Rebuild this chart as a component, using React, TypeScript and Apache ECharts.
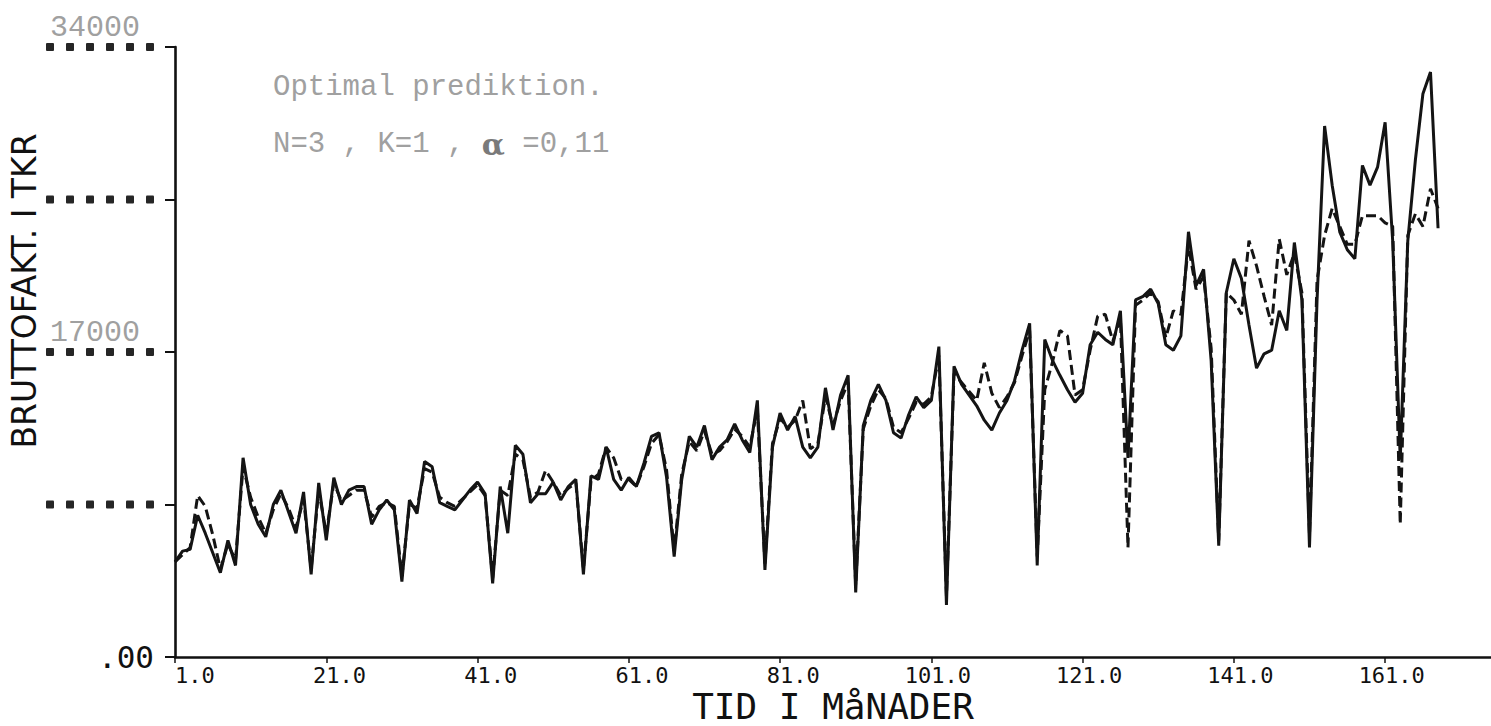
import React, { useEffect, useRef } from "react";
import * as echarts from "echarts";

// Monthly gross invoicing (TKR), 14 years = 168 months, month 1 first.
const actualTkr: number[] = [
  5300, 5900, 6000, 7900, 6900, 5800, 4700, 6500, 5100, 11100, 8500, 7400,
  6700, 8500, 9300, 8100, 6900, 9200, 4600, 9700, 6500, 10000, 8500, 9300,
  9500, 9500, 7400, 8200, 8750, 8200, 4200, 8750, 8000, 10900, 10600, 8600,
  8400, 8200, 8750, 9300, 9750, 9100, 4100, 9500, 6900, 11800, 11300, 8600,
  9100, 9100, 9750, 8750, 9500, 9900, 4600, 10100, 9900, 11700, 9900, 9300,
  10000, 9500, 10800, 12300, 12500, 10000, 5600, 9900, 12300, 11700, 12900, 11000,
  11700, 12100, 13000, 12100, 11400, 14300, 4850, 11700, 13600, 12650, 13400, 11700,
  11100, 11700, 15000, 12650, 14600, 15700, 3600, 12900, 14300, 15200, 14300, 12500,
  12200, 13500, 14500, 13900, 14300, 17300, 2900, 16200, 15200, 14600, 14000, 13200,
  12650, 13600, 14300, 15400, 17100, 18600, 5100, 17700, 16550, 15700, 14900, 14200,
  14700, 17400, 18100, 17700, 17400, 19300, 11100, 19900, 20100, 20500, 19700, 17400,
  17100, 17900, 23700, 20700, 21600, 16500, 6200, 20300, 22200, 21100, 18500, 16100,
  16900, 17100, 19300, 18200, 23100, 19900, 6100, 19900, 29600, 26300, 23700, 22700,
  22200, 27400, 26300, 27300, 29800, 23200, 11000, 23200, 27700, 31400, 32600, 23900,
];

// Optimal prediction, N=3, K=1, alpha=0.11 (TKR).
const predictedTkr: number[] = [
  5300, 5700, 6100, 9000, 8400, 6800, 4900, 6300, 5400, 10600, 8900, 7800,
  6900, 8200, 9100, 8300, 7200, 8800, 4900, 9300, 6900, 9700, 8700, 9000,
  9300, 9300, 7800, 8400, 8600, 8400, 4500, 8500, 8300, 10500, 10300, 8900,
  8600, 8400, 8800, 9200, 9600, 9000, 4400, 9300, 9000, 11300, 11000, 8900,
  9200, 10400, 9750, 9000, 9400, 9700, 4900, 9800, 10200, 11700, 11100, 9900,
  9900, 9500, 10600, 11900, 12400, 10400, 5900, 10200, 12000, 11500, 12600, 11300,
  11500, 12000, 12700, 12300, 11700, 13800, 5200, 11900, 13300, 12800, 13200, 14300,
  11600, 11900, 14500, 12900, 14300, 15300, 4000, 12700, 14000, 14900, 14400, 12800,
  12500, 13300, 14200, 14100, 14500, 16800, 3400, 15800, 15300, 14800, 14300, 16400,
  14700, 13900, 14500, 15300, 16800, 18200, 5600, 14900, 16400, 18200, 17900, 14600,
  14900, 17100, 19000, 19100, 17600, 18900, 6100, 19600, 19900, 20300, 19800, 17800,
  19300, 19100, 22900, 20500, 21200, 17200, 6500, 20300, 19900, 19100, 23200, 21800,
  20100, 18500, 23300, 21300, 22500, 20300, 6800, 21000, 23500, 25000, 24000, 23000,
  23000, 24600, 24600, 24600, 24200, 24000, 7400, 23500, 24700, 24000, 26100, 25000,
];

const xTickMonths: number[] = [1, 21, 41, 61, 81, 101, 121, 141, 161];
const yTicks: number[] = [0, 8500, 17000, 25500, 34000];
const yNumberLabels: number[] = [17000, 34000];

const monoFont = "DejaVu Sans Mono";
const typeFont = "Liberation Mono";
const NBSP = "\u00a0";

// Plot area and axis range (months are stored as month - 1 on the x axis).
const GRID = { left: 175, top: 47, width: 1316, height: 610 };
const X_MAX = 174;
const X_LABEL_SIZE = 22;
const X_CHAR_W = 0.602 * X_LABEL_SIZE;

// Plotter style: the units digit of each month label starts at its tick,
// so left-aligned labels are moved back by the digits in front of it.
const xLabelValues = xTickMonths.map((m) => {
  const lead = String(m).length - 1;
  return m - 1 - (lead * X_CHAR_W * X_MAX) / GRID.width;
});
const xLabelText = (v: number) => (Math.round(v / 20) * 20 + 1).toFixed(1);

const dotRow =
  "{d|" + NBSP + "}" + [0, 1, 2, 3, 4].map(() => "{g|" + NBSP + "}{d|" + NBSP + "}").join("");

export default function App() {
  const ref = useRef<HTMLDivElement>(null);

  useEffect(() => {
    if (!ref.current) return;
    const chart = echarts.init(ref.current, undefined, { renderer: "svg" });

    const toPoints = (arr: number[]) => arr.map((v, i) => [i, v]);

    chart.setOption({
      animation: false,
      backgroundColor: "#ffffff",
      grid: GRID,
      xAxis: {
        type: "value",
        min: 0,
        max: X_MAX,
        axisLine: { lineStyle: { color: "#111", width: 2.6 } },
        axisTick: {
          customValues: xTickMonths.map((m) => m - 1),
          length: 6,
          lineStyle: { color: "#111", width: 1.5 },
        },
        axisLabel: {
          customValues: xLabelValues,
          formatter: xLabelText,
          fontFamily: monoFont,
          fontSize: X_LABEL_SIZE,
          color: "#111",
          margin: 7,
          align: "left",
        },
        splitLine: { show: false },
      },
      yAxis: [
        {
          type: "value",
          min: yTicks[0],
          max: yTicks[yTicks.length - 1],
          interval: yTicks[1] - yTicks[0],
          axisLine: { show: true, lineStyle: { color: "#111", width: 2.6 } },
          axisTick: { show: true, length: 10, lineStyle: { color: "#111", width: 2 } },
          splitLine: { show: false },
          axisLabel: {
            margin: 21,
            formatter: (v: number) => (v === 0 ? "{z|.00}" : dotRow),
            rich: {
              z: { fontFamily: monoFont, fontSize: 31, color: "#111" },
              d: { width: 8, height: 8, backgroundColor: "#262626", borderRadius: 1 },
              g: { width: 12, height: 8 },
            },
          },
        },
        {
          type: "value",
          position: "left",
          min: yTicks[0],
          max: yTicks[yTicks.length - 1],
          interval: yTicks[1] - yTicks[0],
          axisLine: { show: false },
          axisTick: { show: false },
          splitLine: { show: false },
          axisLabel: {
            margin: 35,
            verticalAlign: "bottom",
            padding: [0, 0, 4, 0],
            formatter: (v: number) => (yNumberLabels.includes(v) ? String(v) : ""),
            fontFamily: typeFont,
            fontSize: 30,
            color: "#a0a0a0",
          },
        },
      ],
      series: [
        {
          name: "Prediktion",
          type: "line",
          symbol: "none",
          data: toPoints(predictedTkr),
          lineStyle: { color: "#141414", width: 3, type: [10, 5] },
          z: 2,
        },
        {
          name: "Bruttofakturering",
          type: "line",
          symbol: "none",
          data: toPoints(actualTkr),
          lineStyle: { color: "#141414", width: 3 },
          z: 3,
        },
      ],
      graphic: [
        {
          type: "text",
          left: 273,
          top: 73,
          style: { text: "Optimal prediktion.", font: `29px "${typeFont}"`, fill: "#a0a0a0" },
        },
        {
          type: "text",
          left: 273,
          top: 129,
          style: {
            text: "{t|N=3 , K=1 , }{a|α}{t| =0,11}",
            rich: {
              t: { fontFamily: typeFont, fontSize: 29, fill: "#a0a0a0" },
              a: { fontFamily: "DejaVu Serif", fontSize: 30, fontWeight: "bold", fill: "#7a7a7a" },
            },
          },
        },
        {
          type: "text",
          x: 24,
          y: 291,
          rotation: Math.PI / 2,
          style: {
            text: "BRUTTOFAKT. I TKR",
            font: '33px "DejaVu Sans"',
            fill: "#111",
            align: "center",
            verticalAlign: "middle",
          },
        },
        {
          type: "text",
          x: GRID.left + GRID.width / 2,
          y: 706,
          style: {
            text: "TID I MåNADER",
            font: `36px "${monoFont}"`,
            fill: "#111",
            align: "center",
            verticalAlign: "middle",
          },
        },
      ],
    });

    return () => chart.dispose();
  }, []);

  return (
    <div
      ref={ref}
      style={{ position: "fixed", left: 0, top: 0, width: 1491, height: 726, background: "#fff" }}
    />
  );
}
